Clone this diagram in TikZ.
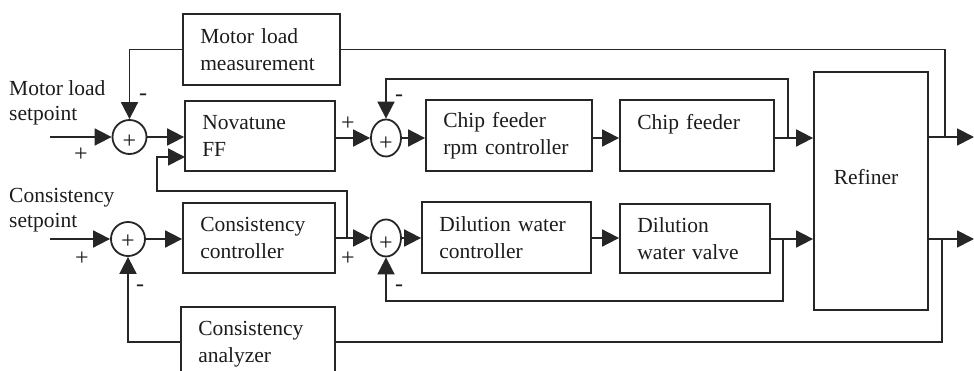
\documentclass[tikz,border=0pt]{standalone}
\usepackage{fontspec}
\setmainfont{Liberation Serif}
\usetikzlibrary{arrows.meta,shapes.geometric}
\definecolor{ink}{HTML}{262626}
\definecolor{txtc}{HTML}{1C1C1C}
\tikzset{
  wire/.style={draw=ink, line width=1.8pt},
  arrow/.style={wire, -{Triangle[length=17pt,width=17pt]}},
  blk/.style={draw=ink, line width=1.8pt, rectangle, inner xsep=17pt, inner ysep=0pt,
              align=left, text=txtc, font=\fontsize{21.5}{27}\selectfont},
  sumc/.style={draw=ink, line width=1.8pt, circle, minimum size=34pt, inner sep=0pt},
  sume/.style={draw=ink, line width=1.8pt, ellipse, minimum width=30pt, minimum height=37pt, inner sep=0pt},
  txt/.style={text=txtc, font=\fontsize{21.5}{25}\selectfont, inner sep=0pt},
  sgn/.style={text=txtc, font=\fontsize{24}{24}\selectfont, inner sep=0pt},
}
% block from its corners: name, x1, y1, x2, y2, text
\newcommand\drawblock[6]{%
  \pgfmathsetmacro\bw{#4-#2}\pgfmathsetmacro\bh{#5-#3}\pgfmathsetmacro\tw{#4-#2-34.5}%
  \node[blk, minimum width=\bw pt, minimum height=\bh pt, text width=\tw pt]
    (#1) at ({(#2+#4)/2},{(#3+#5)/2}) {#6};}
\begin{document}
\begin{tikzpicture}[x=1pt,y=-1pt]
\clip (0,0) rectangle (974,371);
\fill[white] (0,0) rectangle (974,371);

% blocks
\drawblock{mlm}{183}{14}{340}{85}{Motor load\\measurement}
\drawblock{nov}{185}{101}{335}{171}{Novatune\\FF}
\drawblock{cfr}{426}{100}{592}{171}{Chip feeder\\rpm controller}
\drawblock{cf}{620}{100}{774}{171}{Chip feeder\\\mbox{}}
\drawblock{cc}{183}{203}{335}{273}{Consistency\\controller}
\drawblock{dwc}{422}{202}{591}{273}{Dilution water\\controller}
\drawblock{dwv}{620}{204}{770}{273}{Dilution\\water valve}
\drawblock{ca}{181}{307}{335}{381}{Consistency\\analyzer}
\node[draw=ink, line width=1.8pt, rectangle, minimum width=114pt, minimum height=238pt]
  (ref) at (871,191) {};
\node[txt] (reflbl) at (866,177) {Refiner};

% summing junctions
\node[sumc] (s1) at (129.5,137) {};
\node[sume] (s2) at (386,138) {};
\node[sumc] (s3) at (128,239) {};
\node[sume] (s4) at (386,238) {};
\node[sgn] (s1p) at ([yshift=-5pt]s1.center) {+};
\node[sgn] (s2p) at ([yshift=-6pt]s2.center) {+};
\node[sgn] (s3p) at ([yshift=-3pt]s3.center) {+};
\node[sgn] (s4p) at ([yshift=-6pt]s4.center) {+};

% setpoint labels
\node[txt, align=left, anchor=west] (mlsp) at (9,103) {Motor load\\setpoint};
\node[txt, align=left, anchor=west] (csp) at (9,210) {Consistency\\setpoint};

% signs
\node[sgn] (g1) at (81,155) {+};
\node[sgn] (g2) at (143,97) {-};
\node[sgn] (g3) at (348,124) {+};
\node[sgn] (g4) at (399,98) {-};
\node[sgn] (g5) at (82,259) {+};
\node[sgn] (g6) at (140,288) {-};
\node[sgn] (g7) at (348,259) {+};
\node[sgn] (g8) at (399,288) {-};

% free ends and branch points
\coordinate (in1) at (50,137);
\coordinate (in2) at (50,239);
\coordinate (out1) at (974,137);
\coordinate (out2) at (974,239);
\coordinate (tapA) at (945,137);
\coordinate (tapB) at (942,239);
\coordinate (tapC) at (788,138);
\coordinate (topC) at (386,79);
\coordinate (tapD) at (783,239);
\coordinate (botD) at (386,301);
\coordinate (tapE) at (347,239);
\coordinate (topE) at (157,191);
\coordinate (novin) at (185,157);

% motor load loop
\draw[arrow] (in1) -- (s1.west);
\draw[arrow] (mlm.west) -| (s1.north);
\draw[arrow] (s1.east) -- (nov.west |- s1);
\draw[arrow] (nov.east |- s2) -- (s2.west);
\draw[arrow] (s2.east) -- (cfr.west |- s2);
\draw[arrow] (cfr.east |- s2) -- (cf.west |- s2);
\draw[arrow] (cf.east |- s2) -- (ref.west |- s2);
\draw[arrow] (tapC) |- (topC) -- (s2.north);
\draw[arrow] (ref.east |- out1) -- (out1);
\draw[wire] (mlm.east) -| (tapA);

% consistency loop
\draw[arrow] (in2) -- (s3.west);
\draw[arrow] (s3.east) -- (cc.west |- s3);
\draw[arrow] (cc.east |- s4) -- (s4.west);
\draw[arrow] (s4.east) -- (dwc.west |- s4);
\draw[arrow] (dwc.east |- s4) -- (dwv.west |- s4);
\draw[arrow] (dwv.east |- out2) -- (ref.west |- out2);
\draw[arrow] (tapD) |- (botD) -- (s4.south);
\draw[arrow] (ref.east |- out2) -- (out2);
\draw[wire] (tapB) |- (ca.east |- 0,342);
\draw[arrow] (ca.west |- 0,342) -| (s3.south);
\draw[arrow] (tapE) |- (topE) |- (novin);
\end{tikzpicture}
\end{document}
